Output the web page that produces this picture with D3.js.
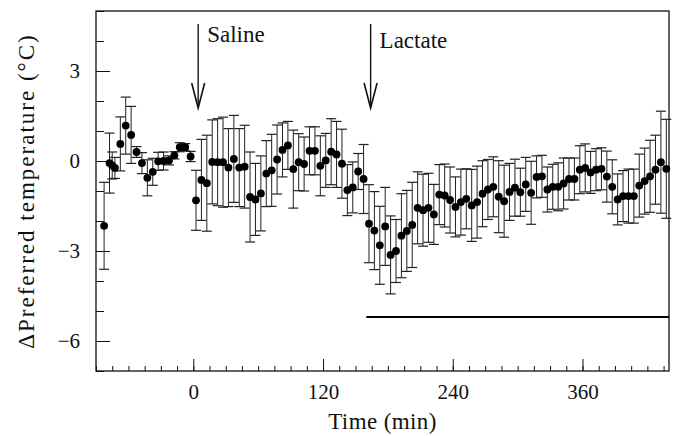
<!DOCTYPE html>
<html>
<head>
<meta charset="utf-8">
<script src="https://cdn.jsdelivr.net/npm/d3@7"></script>
<style>
  body { margin: 0; background: #fff; }
  svg { display: block; }
  svg text { font-family: "Liberation Serif", "Times New Roman", Times, "DejaVu Serif", serif !important; fill: #111; }
</style>
</head>
<body>
<div id="chart"></div>
<script>
// time of each sample (min)
var times = [-82.5, -77.5, -75, -72.5, -67.5, -62.5, -57.5, -52.5, -47.5, -42.5,
  -37.5, -32.5, -27.5, -22.5, -17.5, -12.5, -7.5, -2.5, 2.5, 7.5,
  12.5, 17.5, 22.5, 27.5, 32.5, 37.5, 42.5, 47.5, 52.5, 57.5,
  62.5, 67.5, 72.5, 77.5, 82.5, 87.5, 92.5, 97.5, 102.5, 107.5,
  112.5, 117.5, 122.5, 127.5, 132.5, 137.5, 142.5, 147.5, 152.5, 157.5,
  162.5, 167.5, 172.5, 177.5, 182.5, 187.5, 192.5, 197.5, 202.5, 207.5,
  212.5, 217.5, 222.5, 227.5, 232.5, 237.5, 242.5, 247.5, 252.5, 257.5,
  262.5, 267.5, 272.5, 277.5, 282.5, 287.5, 292.5, 297.5, 302.5, 307.5,
  312.5, 317.5, 322.5, 327.5, 332.5, 337.5, 342.5, 347.5, 352.5, 357.5,
  362.5, 367.5, 372.5, 377.5, 382.5, 387.5, 392.5, 397.5, 402.5, 407.5,
  412.5, 417.5, 422.5, 427.5, 432.5, 437.5];

// mean change in preferred temperature (°C)
var means = [-2.16, -0.07, -0.15, -0.23, 0.57, 1.18, 0.87, 0.30, -0.07, -0.56,
  -0.36, -0.01, 0.00, 0.02, 0.19, 0.46, 0.46, 0.15, -1.31, -0.63,
  -0.74, -0.03, -0.04, -0.04, -0.22, 0.07, -0.22, -0.19, -1.20, -1.28,
  -1.08, -0.42, -0.31, 0.05, 0.37, 0.52, -0.27, -0.04, -0.10, 0.34,
  0.34, -0.16, 0.02, 0.31, 0.22, -0.09, -0.97, -0.88, -0.35, -0.60,
  -2.09, -2.32, -2.81, -2.18, -3.13, -3.00, -2.49, -2.33, -2.13, -1.56,
  -1.64, -1.56, -1.78, -1.12, -1.15, -1.30, -1.53, -1.37, -1.26, -1.48,
  -1.37, -1.09, -0.95, -0.86, -1.19, -1.34, -1.03, -0.89, -1.04, -0.78,
  -1.06, -0.53, -0.51, -0.95, -0.86, -0.86, -0.75, -0.60, -0.60, -0.29,
  -0.23, -0.38, -0.29, -0.26, -0.52, -0.86, -1.28, -1.17, -1.17, -1.17,
  -0.82, -0.67, -0.51, -0.29, -0.04, -0.26];

// standard error (°C)
var errors = [1.45, 1.00, 0.45, 0.35, 0.90, 0.95, 0.95, 0.18, 0.35, 0.60,
  0.45, 0.30, 0.30, 0.15, 0.12, 0.15, 0.12, 0.17, 1.00, 1.35,
  1.60, 1.40, 1.45, 1.50, 1.30, 1.45, 1.30, 1.38, 1.50, 1.20,
  1.25, 1.10, 1.20, 1.15, 0.90, 0.80, 1.30, 0.95, 0.90, 0.80,
  0.80, 1.00, 0.90, 1.10, 1.10, 1.15, 0.85, 0.85, 0.60, 1.15,
  1.30, 1.30, 1.30, 1.30, 1.30, 1.05, 1.40, 1.35, 1.42, 1.20,
  1.20, 1.15, 1.00, 1.00, 1.05, 1.10, 1.00, 1.10, 1.00, 1.20,
  1.20, 1.10, 1.00, 1.00, 1.20, 1.20, 0.95, 0.95, 0.80, 0.90,
  1.05, 0.70, 0.70, 0.75, 0.75, 0.80, 0.85, 0.70, 0.70, 0.80,
  0.80, 0.70, 0.70, 0.70, 0.85, 0.90, 0.85, 0.85, 0.90, 0.90,
  1.05, 1.10, 1.20, 1.15, 1.70, 1.65];

var xTicks = [0, 120, 240, 360];
var yTicks = [3, 0, -3, -6];

// injections and lactate infusion period
var eventLabels = ["Saline", "Lactate"];
var eventTimes = [4.5, 164];
var infusionStart = 160;
var infusionEnd = 440;
var infusionLevel = -5.2;

var width = 680, height = 436;
var margin = { top: 11, right: 11, bottom: 65, left: 96 };

var svg = d3.select("#chart").append("svg")
    .attr("width", width)
    .attr("height", height);

var x = d3.scaleLinear()
    .domain([-90, 440])
    .range([margin.left, width - margin.right]);

var y = d3.scaleLinear()
    .domain([-7, 5])
    .range([height - margin.bottom, margin.top]);

var data = times.map(function(t, i) {
    return { t: t, m: means[i], e: errors[i] };
});

// frame
svg.append("rect")
    .attr("x", x(-90))
    .attr("y", y(5))
    .attr("width", x(440) - x(-90))
    .attr("height", y(-7) - y(5))
    .style("fill", "none")
    .style("stroke", "#111")
    .style("stroke-width", 1.3);

// x axis, ticks pointing inward
var xAxis = svg.append("g")
    .attr("transform", "translate(0," + y(-7) + ")");

xAxis.call(d3.axisBottom(x)
    .tickValues(d3.range(-90, 441, 15))
    .tickSize(-5)
    .tickFormat(""));

xAxis.append("g").call(d3.axisBottom(x)
    .tickValues(xTicks)
    .tickSize(-12)
    .tickPadding(21)
    .tickFormat(d3.format("d")));

xAxis.selectAll(".domain").remove();
xAxis.selectAll("line").style("stroke", "#111");
xAxis.selectAll("text")
    .style("font-size", "21px")
    .attr("dy", "0.35em");

// y axis, ticks pointing inward
var yAxis = svg.append("g")
    .attr("transform", "translate(" + x(-90) + ",0)");

yAxis.call(d3.axisLeft(y)
    .tickValues(d3.range(-7, 6, 1))
    .tickSize(-8)
    .tickFormat(""));

yAxis.append("g").call(d3.axisLeft(y)
    .tickValues(yTicks)
    .tickSize(-14)
    .tickPadding(16)
    .tickFormat(function(d) { return d < 0 ? "\u2212" + Math.abs(d) : d; }));

yAxis.selectAll(".domain").remove();
yAxis.selectAll("line").style("stroke", "#111");
yAxis.selectAll("text")
    .style("font-size", "21px");

// axis titles
svg.append("text")
    .attr("x", (x(-90) + x(440)) / 2)
    .attr("y", 429)
    .attr("text-anchor", "middle")
    .style("font-size", "23px")
    .style("letter-spacing", "0.4px")
    .text("Time (min)");

svg.append("text")
    .attr("transform", "translate(34," + (y(-7) + y(5)) / 2 + ") rotate(-90)")
    .attr("text-anchor", "middle")
    .style("font-size", "23px")
    .style("letter-spacing", "2px")
    .text("\u0394Preferred temperature (\u00B0C)");

// error bars
var bars = svg.append("g").attr("class", "errors");

bars.selectAll("line.stem")
    .data(data)
    .enter()
    .append("line")
    .attr("class", "stem")
    .attr("x1", function(d) { return x(d.t); })
    .attr("x2", function(d) { return x(d.t); })
    .attr("y1", function(d) { return y(d.m + d.e); })
    .attr("y2", function(d) { return y(d.m - d.e); })
    .style("stroke", "#222")
    .style("stroke-width", 1);

[1, -1].forEach(function(s) {
    bars.selectAll("line.cap" + (s > 0 ? "up" : "down"))
        .data(data)
        .enter()
        .append("line")
        .attr("class", "cap" + (s > 0 ? "up" : "down"))
        .attr("x1", function(d) { return x(d.t) - 5; })
        .attr("x2", function(d) { return x(d.t) + 5; })
        .attr("y1", function(d) { return y(d.m + s * d.e); })
        .attr("y2", function(d) { return y(d.m + s * d.e); })
        .style("stroke", "#222")
        .style("stroke-width", 1.2);
});

// means
svg.append("g")
    .selectAll("circle")
    .data(data)
    .enter()
    .append("circle")
    .attr("cx", function(d) { return x(d.t); })
    .attr("cy", function(d) { return y(d.m); })
    .attr("r", 3.9)
    .style("fill", "#000");

// lactate infusion bar
svg.append("line")
    .attr("x1", x(infusionStart))
    .attr("x2", x(infusionEnd))
    .attr("y1", y(infusionLevel))
    .attr("y2", y(infusionLevel))
    .style("stroke", "#000")
    .style("stroke-width", 2.2);

// injection arrows
eventTimes.forEach(function(t, i) {
    var ax = x(t);
    var g = svg.append("g");
    g.append("line")
        .attr("x1", ax).attr("x2", ax)
        .attr("y1", 24).attr("y2", 107)
        .style("stroke", "#111")
        .style("stroke-width", 1.4);
    g.append("path")
        .attr("d", "M" + (ax - 6.5) + ",83 L" + ax + ",108 L" + (ax + 6.5) + ",83")
        .style("fill", "none")
        .style("stroke", "#111")
        .style("stroke-width", 1.6);
    g.append("text")
        .attr("x", ax + 9)
        .attr("y", 42 + i * 6)
        .style("font-size", "23px")
        .text(eventLabels[i]);
});
</script>
</body>
</html>
